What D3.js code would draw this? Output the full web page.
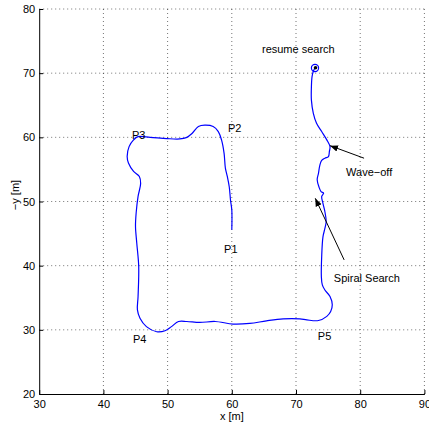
<html>
<head>
  <title>Search path</title>
  <script src="https://cdnjs.cloudflare.com/ajax/libs/d3/7.8.5/d3.min.js"></script>
  <style>
    body { margin: 0; background: #fff; font-family: "Liberation Sans", Arial, sans-serif; }
    .tick text { font-size: 11px; fill: #000; }
    .grid line { stroke: #000; stroke-opacity: 0.55; stroke-dasharray: 1,3; }
    .lbl { font-size: 11px; fill: #000; }
  </style>
</head>
<body>
  <div id="chart"></div>
  <script>
    // axis ticks
    var xTicks = [30, 40, 50, 60, 70, 80, 90];
    var yTicks = [20, 30, 40, 50, 60, 70, 80];

    // vehicle track
    var pathX = [60.0, 60.0, 59.8, 59.6, 59.3, 59.0, 58.8, 58.4, 57.9, 57.1, 55.8, 54.8, 53.8, 52.9, 51.9, 49.9,
      47.3, 45.4, 44.7, 44.0, 43.7, 43.9, 44.7, 45.6, 45.8, 45.4, 45.1, 45.0, 45.2, 45.5, 45.4, 45.3, 45.7,
      46.7, 48.3, 49.6, 50.6, 51.7, 53.0, 55.0, 57.4, 60.2, 62.8, 65.4, 68.0, 70.6, 71.7, 73.5, 74.8, 75.4,
      75.65, 75.3, 74.5, 74.1, 73.95, 74.0, 74.2, 74.5, 74.7, 74.5, 74.2, 74.0, 74.3, 73.9, 73.6, 73.3, 73.5,
      73.7, 74.0, 74.5, 75.05, 75.2, 75.3, 74.8, 74.0, 73.2, 72.7, 72.4, 72.4, 72.5, 72.7, 72.96];
    var pathY = [45.6, 48.7, 50.2, 52.3, 53.9, 55.2, 57.5, 59.6, 60.9, 61.7, 61.9, 61.7, 60.6, 59.95, 59.75, 59.8,
      60.0, 60.1, 59.6, 58.55, 57.0, 56.0, 54.7, 53.9, 52.8, 50.8, 48.2, 46.1, 43.5, 39.9, 35.2, 33.1, 31.8,
      30.5, 29.7, 29.85, 30.5, 31.3, 31.3, 31.15, 31.3, 30.9, 31.0, 31.4, 31.7, 31.7, 31.55, 31.45, 32.1, 32.85,
      33.9, 35.2, 36.2, 37.0, 38.3, 41.4, 44.5, 45.8, 46.9, 48.4, 49.7, 50.8, 51.3, 51.55, 52.2, 53.4, 54.4,
      55.6, 56.4, 56.75, 57.0, 57.8, 58.55, 59.6, 60.9, 62.2, 63.75, 65.8, 67.9, 69.45, 70.3, 70.8];

    // waypoint labels
    var labelText = ["P1", "P2", "P3", "P4", "P5", "resume search", "Wave\u2212off", "Spiral Search"];
    var labelX = [58.8, 59.4, 44.45, 44.6, 73.4, 64.7, 77.8, 75.9];
    var labelY = [42.0, 60.85, 59.75, 28.0, 28.4, 73.2, 53.9, 37.5];

    // arrows: [fromX, fromY, toX, toY]
    var arrows = [[80.6, 56.75, 75.3, 58.7], [77.5, 40.9, 73.0, 50.5]];

    var svgWidth = 429, svgHeight = 425;
    var margin = { top: 9, right: 4.6, bottom: 31, left: 39.2 };
    var width = svgWidth - margin.left - margin.right;
    var height = svgHeight - margin.top - margin.bottom;

    var svg = d3.select("#chart").append("svg")
      .attr("width", svgWidth).attr("height", svgHeight);

    svg.append("defs").append("marker")
      .attr("id", "head")
      .attr("viewBox", "0 0 10 10")
      .attr("refX", 10).attr("refY", 5)
      .attr("markerWidth", 8).attr("markerHeight", 8)
      .attr("markerUnits", "userSpaceOnUse")
      .attr("orient", "auto")
      .append("path").attr("d", "M0,1 L10,5 L0,9 z").attr("fill", "#000");

    var chart = svg.append("g")
      .attr("transform", "translate(" + margin.left + "," + margin.top + ")");

    var xScale = d3.scaleLinear().domain([30, 90]).range([0, width]);
    var yScale = d3.scaleLinear().domain([20, 80]).range([height, 0]);

    // dotted grid
    var grid = chart.append("g").attr("class", "grid");
    grid.selectAll(".gx").data(xTicks.slice(1)).enter().append("line")
      .attr("x1", function(d) { return xScale(d); }).attr("x2", function(d) { return xScale(d); })
      .attr("y1", 0).attr("y2", height);
    grid.selectAll(".gy").data(yTicks.slice(1)).enter().append("line")
      .attr("y1", function(d) { return yScale(d); }).attr("y2", function(d) { return yScale(d); })
      .attr("x1", 0).attr("x2", width);

    // axes with inward ticks
    chart.append("g")
      .attr("transform", "translate(0," + height + ")")
      .call(d3.axisBottom(xScale).tickValues(xTicks).tickSizeInner(-4).tickSizeOuter(0).tickPadding(6))
      .call(function(g) { g.select(".domain").attr("stroke", "#000"); });
    chart.append("g")
      .call(d3.axisLeft(yScale).tickValues(yTicks).tickSizeInner(-4).tickSizeOuter(0).tickPadding(4))
      .call(function(g) { g.select(".domain").attr("stroke", "#000"); });

    // track
    var pts = pathX.map(function(x, i) { return [x, pathY[i]]; });
    chart.append("path")
      .datum(pts)
      .attr("fill", "none")
      .attr("stroke", "#0000ff")
      .attr("stroke-width", 1.2)
      .attr("d", d3.line()
        .x(function(d) { return xScale(d[0]); })
        .y(function(d) { return yScale(d[1]); })
        .curve(d3.curveCatmullRom));

    // end marker
    var last = pts[pts.length - 1];
    chart.append("circle")
      .attr("cx", xScale(last[0])).attr("cy", yScale(last[1])).attr("r", 3.6)
      .attr("fill", "none").attr("stroke", "#0000ff").attr("stroke-width", 1.2);
    chart.append("circle")
      .attr("cx", xScale(last[0]) + 0.5).attr("cy", yScale(last[1]) - 0.3).attr("r", 1.8)
      .attr("fill", "#000");

    // arrows
    chart.selectAll(".arrow").data(arrows).enter().append("line")
      .attr("x1", function(d) { return xScale(d[0]); }).attr("y1", function(d) { return yScale(d[1]); })
      .attr("x2", function(d) { return xScale(d[2]); }).attr("y2", function(d) { return yScale(d[3]); })
      .attr("stroke", "#000").attr("stroke-width", 1)
      .attr("marker-end", "url(#head)");

    // labels
    chart.selectAll(".lbl").data(labelText).enter().append("text")
      .attr("class", "lbl")
      .attr("x", function(d, i) { return xScale(labelX[i]); })
      .attr("y", function(d, i) { return yScale(labelY[i]); })
      .text(function(d) { return d; });

    // axis titles
    svg.append("text").attr("class", "lbl")
      .attr("x", margin.left + width / 2).attr("y", 420)
      .attr("text-anchor", "middle").text("x [m]");
    svg.append("text").attr("class", "lbl")
      .attr("transform", "translate(19,195) rotate(-90)")
      .attr("text-anchor", "middle").text("\u2212y [m]");
  </script>
</body>
</html>
